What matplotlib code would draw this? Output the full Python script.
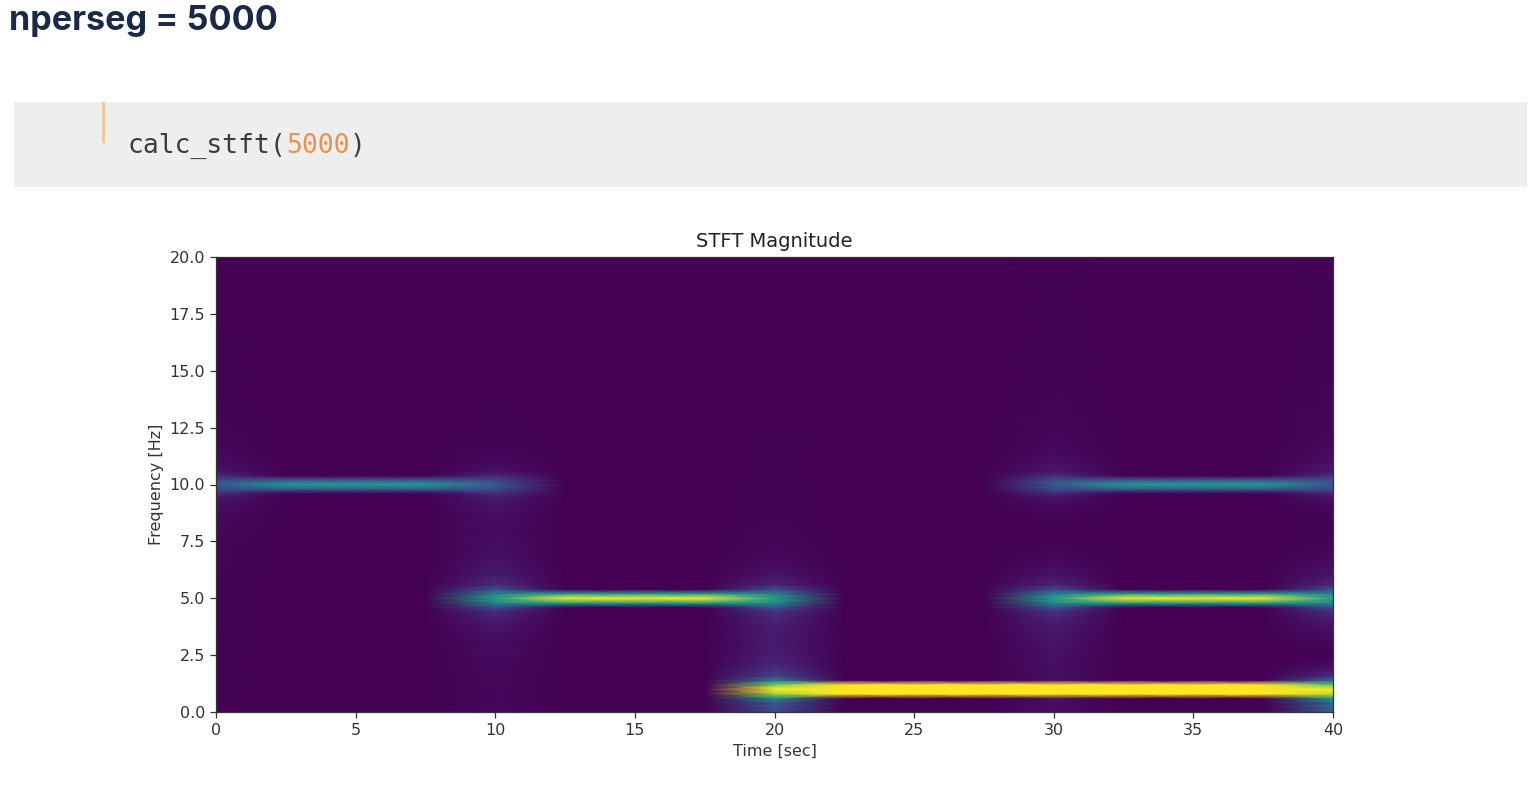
import numpy as np
import matplotlib
matplotlib.use("Agg")
import matplotlib.pyplot as plt
from matplotlib.patches import Rectangle

# ---- data: the test signal (segments of sinusoids) ----
fs = 1000                      # sampling rate [Hz]
nperseg = 5000                 # STFT window length
seg_start = [0, 10, 20, 30]    # segment start times [s]
seg_end = [10, 20, 30, 40]     # segment end times [s]
seg_freqs = [[10], [5], [1], [10, 5, 1]]   # tones in each segment [Hz]
tone_freq = [10, 5, 1]
tone_amp = [1.1, 2.25, 4.0]
vmax = 1.0
x_ticks = [0, 5, 10, 15, 20, 25, 30, 35, 40]
y_ticks = [0.0, 2.5, 5.0, 7.5, 10.0, 12.5, 15.0, 17.5, 20.0]

# ---- build the signal ----
t = np.arange(0, seg_end[-1] * fs) / fs
x = np.zeros_like(t)
amp_of = dict(zip(tone_freq, tone_amp))
for s, e, fl in zip(seg_start, seg_end, seg_freqs):
    m = (t >= s) & (t < e)
    for f in fl:
        x[m] += amp_of[f] * np.sin(2 * np.pi * f * t[m])

# ---- STFT (scipy-like: hann window, 50% overlap, zero boundary padding) ----
hop = nperseg // 2
xp = np.concatenate([np.zeros(nperseg // 2), x, np.zeros(nperseg // 2)])
win = 0.5 - 0.5 * np.cos(2 * np.pi * np.arange(nperseg) / nperseg)
nfr = (len(xp) - nperseg) // hop + 1
freqs = np.fft.rfftfreq(nperseg, 1 / fs)
nf = np.searchsorted(freqs, 21.0)
Z = np.empty((nf, nfr))
for k in range(nfr):
    seg = xp[k * hop: k * hop + nperseg] * win
    Z[:, k] = np.abs(np.fft.rfft(seg)[:nf]) / win.sum()
times = np.arange(nfr) * hop / fs

# ---- figure ----
W, H, DPI = 1538, 788, 100
fig = plt.figure(figsize=(W / DPI, H / DPI), dpi=DPI, facecolor="white")

def fx(px):
    return px / W

def fy(py):
    return 1 - py / H

# heading
fig.text(fx(9), fy(21), "nperseg = 5000", fontsize=24.6, fontweight="bold",
         family=["Inter", "DejaVu Sans"], color="#1b2949", va="center", ha="left")

# code cell
fig.patches.append(Rectangle((fx(14), fy(187)), fx(1527) - fx(14), fy(102) - fy(187),
                             transform=fig.transFigure, facecolor="#eeeeee",
                             edgecolor="none", zorder=0))
fig.patches.append(Rectangle((fx(102), fy(143)), fx(3), fy(102) - fy(143),
                             transform=fig.transFigure, facecolor="#f1c79b",
                             edgecolor="none", zorder=1))
code_y = fy(146)
code_fs = 19
t1 = fig.text(fx(127), code_y, "calc_stft(", fontsize=code_fs, family="DejaVu Sans Mono",
              color="#3c3c3c", va="center", ha="left")
fig.canvas.draw()
r = fig.canvas.get_renderer()
bb = t1.get_window_extent(r)
t2 = fig.text(bb.x1 / W, code_y, "5000", fontsize=code_fs, family="DejaVu Sans Mono",
              color="#f0904c", va="center", ha="left")
bb2 = t2.get_window_extent(r)
fig.text(bb2.x1 / W, code_y, ")", fontsize=code_fs, family="DejaVu Sans Mono",
         color="#3c3c3c", va="center", ha="left")

# axes
ax = fig.add_axes([fx(216), fy(712), fx(1333) - fx(216), fy(257) - fy(712)])
ax.pcolormesh(times, freqs[:nf], Z, vmin=0, vmax=vmax, shading="gouraud", cmap="viridis")
ax.set_xlim(times[0], times[-1])
ax.set_ylim(0, 20)
ax.set_xticks(x_ticks)
ax.set_xticklabels([str(v) for v in x_ticks])
ax.set_yticks(y_ticks)
ax.set_yticklabels([f"{v:.1f}" for v in y_ticks])
ax.tick_params(labelsize=11.5, colors="#333333", length=4.5, width=0.9)
for sp in ax.spines.values():
    sp.set_color("#333333")
    sp.set_linewidth(0.9)
ax.set_title("STFT Magnitude", fontsize=14, color="#222222", pad=7)
ax.set_xlabel("Time [sec]", fontsize=11.5, color="#333333")
ax.set_ylabel("Frequency [Hz]", fontsize=11.5, color="#333333")

fig.savefig("out.png", dpi=DPI, facecolor="white")
